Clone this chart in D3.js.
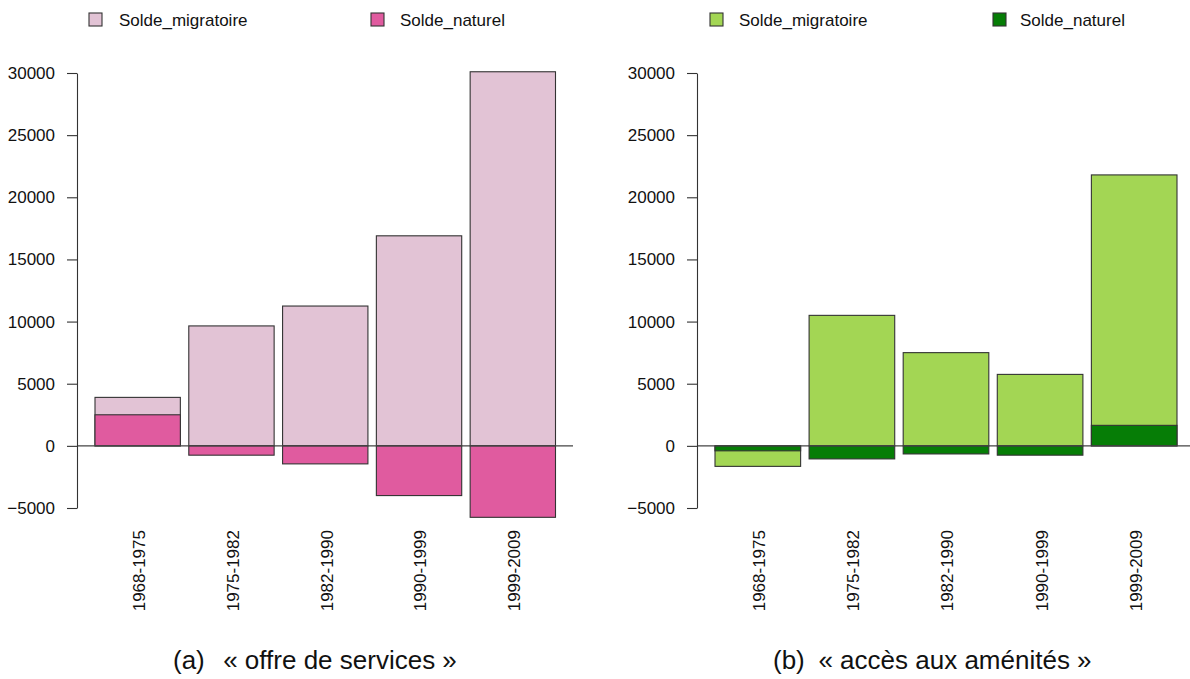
<!DOCTYPE html>
<html>
<head>
<meta charset="utf-8">
<script src="https://cdn.jsdelivr.net/npm/d3@7"></script>
<style>
  html, body { margin: 0; padding: 0; background: #fff; }
  text { font-family: "Liberation Sans", Arial, sans-serif; fill: #111; }
</style>
</head>
<body>
<svg id="chart" width="1190" height="679"></svg>
<script>
// ---- data ----
const categories = ["1968-1975", "1975-1982", "1982-1990", "1990-1999", "1999-2009"];
const seriesNames = ["Solde_migratoire", "Solde_naturel"];
const yTicks = [-5000, 0, 5000, 10000, 15000, 20000, 25000, 30000];

// panel (a) « offre de services »
const servicesMigratoire = [3900, 9650, 11250, 16900, 30100];
const servicesNaturel = [2500, -750, -1450, -4000, -5750];

// panel (b) « accès aux aménités »
const amenitesMigratoire = [-1650, 10500, 7500, 5750, 21800];
const amenitesNaturel = [-400, -1050, -650, -750, 1650];

const captions = [["(a)", "« offre de services »"], ["(b)", "« accès aux aménités »"]];

// ---- layout ----
const svg = d3.select("#chart");
const panels = [
  {
    mig: servicesMigratoire, nat: servicesNaturel,
    colors: ["#e2c3d5", "#e05b9f"],
    axisX: 77, barRange: [95, 555.5], zeroRange: [77, 573],
    legend: [{sq: 89, tx: 119}, {sq: 371, tx: 400}],
    caption: {lab: 173, center: 340}
  },
  {
    mig: amenitesMigratoire, nat: amenitesNaturel,
    colors: ["#a3d654", "#067d06"],
    axisX: 697, barRange: [715, 1177], zeroRange: [697, 1190],
    legend: [{sq: 710, tx: 739}, {sq: 993, tx: 1020}],
    caption: {lab: 773, center: 955}
  }
];

const y = d3.scaleLinear().domain([-5000, 30000]).range([508, 73]);

panels.forEach((p, pi) => {
  const g = svg.append("g");
  const x = d3.scaleBand().domain(categories).range(p.barRange)
    .paddingInner(0.09).paddingOuter(0);

  // bars: migratoire then naturel on top, both from zero
  [p.mig, p.nat].forEach((vals, si) => {
    g.selectAll(null).data(categories).enter().append("rect")
      .attr("x", d => x(d))
      .attr("width", x.bandwidth())
      .attr("y", (d, i) => y(Math.max(0, vals[i])))
      .attr("height", (d, i) => Math.abs(y(vals[i]) - y(0)))
      .attr("fill", p.colors[si])
      .attr("stroke", "#333")
      .attr("stroke-width", 1.1);
  });

  // zero line
  g.append("line")
    .attr("x1", p.zeroRange[0]).attr("x2", p.zeroRange[1])
    .attr("y1", y(0)).attr("y2", y(0))
    .attr("stroke", "#444").attr("stroke-width", 1.1);

  // y axis
  const ax = g.append("g")
    .attr("transform", `translate(${p.axisX},0)`)
    .call(d3.axisLeft(y).tickValues(yTicks).tickFormat(d3.format("d"))
      .tickSize(10).tickSizeOuter(0).tickPadding(12));
  ax.selectAll("path, line").attr("stroke", "#333").attr("stroke-width", 1.1);
  ax.selectAll("text").attr("font-size", 17)
    .attr("font-family", "'Liberation Sans', Arial, sans-serif").attr("fill", "#111");

  // category labels (rotated)
  g.selectAll(null).data(categories).enter().append("text")
    .attr("transform", d => `translate(${x(d) + x.bandwidth() / 2 + 1.5},530) rotate(-90)`)
    .attr("text-anchor", "end")
    .attr("dy", "0.35em")
    .attr("font-size", 17)
    .text(d => d);

  // legend
  seriesNames.forEach((name, si) => {
    g.append("rect")
      .attr("x", p.legend[si].sq).attr("y", 13)
      .attr("width", 13).attr("height", 13)
      .attr("fill", p.colors[si]).attr("stroke", "#333").attr("stroke-width", 1.1);
    g.append("text")
      .attr("x", p.legend[si].tx).attr("y", 20)
      .attr("dy", "0.35em")
      .attr("font-size", 17)
      .text(name);
  });

  // caption
  g.append("text").attr("x", p.caption.lab).attr("y", 660).attr("dy", "0.35em")
    .attr("font-size", 26).text(captions[pi][0]);
  g.append("text").attr("x", p.caption.center).attr("y", 660).attr("dy", "0.35em")
    .attr("text-anchor", "middle").attr("font-size", 26).text(captions[pi][1]);
});
</script>
</body>
</html>
